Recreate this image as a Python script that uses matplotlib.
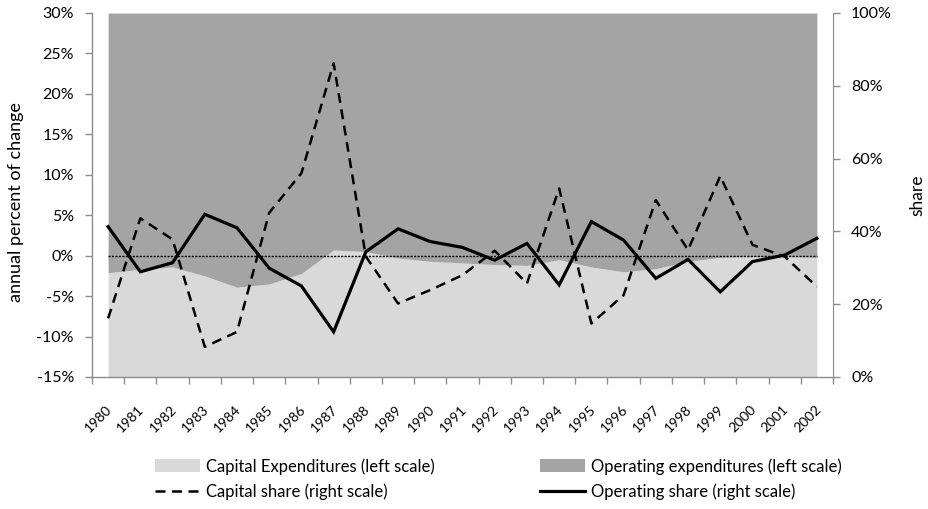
import numpy as np
import matplotlib
matplotlib.use("Agg")
import matplotlib.pyplot as plt
from matplotlib.lines import Line2D
from matplotlib.patches import Patch
import matplotlib.transforms as mtransforms

plt.rcParams['font.family'] = ['Lato', 'DejaVu Sans']

years = [str(y) for y in range(1980, 2003)]
# Capital expenditures (left scale, % annual change) – top of light area
capital_exp = [-2.1, -1.7, -1.4, -2.5, -3.9, -3.5, -2.2, 0.7, 0.5, -0.3, -0.7, -0.9,
               -1.1, -1.2, -0.5, -1.4, -2.0, -1.6, -0.7, -0.2, -0.1, -0.1, -0.2]
# Capital share (right scale, %)
capital_share = [16.1, 43.6, 37.8, 8.3, 12.4, 45.1, 56.0, 86.2, 33.1, 20.2, 23.9, 28.0,
                 34.7, 25.7, 51.8, 14.7, 22.5, 48.6, 34.9, 55.2, 36.3, 33.1, 24.8]
# Operating share (right scale, %)
operating_share = [41.3, 28.9, 31.4, 44.7, 41.0, 29.9, 25.0, 12.4, 34.4, 40.7, 37.2, 35.6,
                   32.1, 36.7, 25.3, 42.7, 37.6, 27.1, 32.3, 23.4, 31.7, 33.5, 38.1]

left_ticks = [-15, -10, -5, 0, 5, 10, 15, 20, 25, 30]
left_ticklabels = ['-15%', '-10%', '-5%', '0%', '5%', '10%', '15%', '20%', '25%', '30%']
right_ticks = [0, 20, 40, 60, 80, 100]
right_ticklabels = ['0%', '20%', '40%', '60%', '80%', '100%']

LIGHT = '#d9d9d9'
DARK = '#a4a4a4'
AXC = '#8c8c8c'

W, H = 929, 509
fig = plt.figure(figsize=(W / 100, H / 100), dpi=100)
L, R, T, B = 92, 833, 13, 377
ax = fig.add_axes([L / W, 1 - B / H, (R - L) / W, (B - T) / H])
x = np.arange(len(years))

ax.fill_between(x, -15, capital_exp, color=LIGHT, lw=0, zorder=1)
ax.fill_between(x, capital_exp, 30, color=DARK, lw=0, zorder=1)
ax.hlines(0, x[0], x[-1], colors='black', linestyles=(0, (1.5, 1.0)), lw=1.0, zorder=2)

ax.set_xlim(-0.5, len(years) - 0.5)
ax.set_ylim(-15, 30)
ax.set_yticks(left_ticks)
ax.set_yticklabels(left_ticklabels)
ax.set_xticks(x)
ax.set_xticklabels(years, rotation=45, ha='right', va='center', rotation_mode='anchor')
ax.set_xticks(np.arange(-0.5, len(years), 1), minor=True)
ax.tick_params(axis='x', which='major', length=0, pad=22, labelsize=10)
ax.tick_params(axis='x', which='minor', length=5, color=AXC, width=1)
ax.tick_params(axis='y', length=5, color=AXC, width=1, pad=8, labelsize=11.5)
offset = mtransforms.ScaledTranslation(2 / 100, 0, fig.dpi_scale_trans)
for lab in ax.get_xticklabels():
    lab.set_transform(lab.get_transform() + offset)

for s in ['top', 'right']:
    ax.spines[s].set_visible(False)
for s in ['left', 'bottom']:
    ax.spines[s].set_color(AXC)
    ax.spines[s].set_linewidth(1)
ax.set_ylabel('annual percent of change', fontsize=13)
ax.yaxis.set_label_coords(-68 / (R - L), 0.48)

ax2 = ax.twinx()
ax2.plot(x, capital_share, color='black', lw=1.8, linestyle=(0, (4, 2.6)), zorder=3)
ax2.plot(x, operating_share, color='black', lw=2.3, zorder=4, solid_joinstyle='miter')
ax2.set_ylim(0, 100)
ax2.set_yticks(right_ticks)
ax2.set_yticklabels(right_ticklabels)
ax2.tick_params(axis='y', length=5, color=AXC, width=1, pad=8, labelsize=11.5)
for s in ['top', 'left', 'bottom']:
    ax2.spines[s].set_visible(False)
ax2.spines['right'].set_color(AXC)
ax2.set_ylabel('share', fontsize=12.5, rotation=90)
ax2.yaxis.set_label_coords(1 + 76 / (R - L), 0.50)

h1 = [Patch(facecolor=LIGHT, edgecolor='none'),
      Line2D([], [], color='black', lw=1.8, linestyle=(0, (4, 2.6)))]
l1 = ['Capital Expenditures (left scale)', 'Capital share (right scale)']
h2 = [Patch(facecolor=DARK, edgecolor='none'),
      Line2D([], [], color='black', lw=2.3)]
l2 = ['Operating expenditures (left scale)', 'Operating share (right scale)']
for hs, ls, xpos in [(h1, l1, 155), (h2, l2, 540)]:
    fig.legend(hs, ls, loc='upper left', bbox_to_anchor=(xpos / W, 1 - 458 / H),
               frameon=False, fontsize=12, handlelength=2.7, handleheight=0.8,
               handletextpad=0.35, labelspacing=0.55, borderpad=0, borderaxespad=0)

fig.savefig('out.png', dpi=100)
